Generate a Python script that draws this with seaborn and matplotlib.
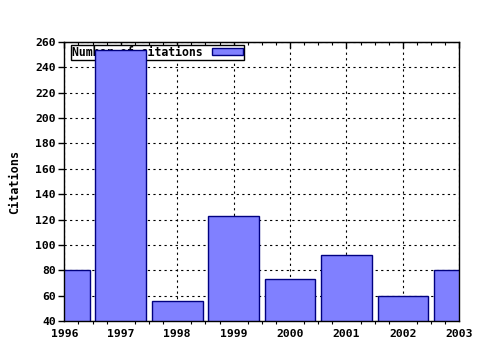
import matplotlib
matplotlib.use("Agg")
import matplotlib.pyplot as plt
import seaborn as sns
import pandas as pd
from matplotlib.ticker import MultipleLocator, NullFormatter

years = [1996, 1997, 1998, 1999, 2000, 2001, 2002, 2003]
citations = [80, 254, 56, 123, 73, 92, 60, 80]
series_label = "Number of citations"
y_label = "Citations"

sns.set_style("white")
plt.rcParams['font.family'] = ['DejaVu Sans Mono']
plt.rcParams['font.weight'] = 'bold'
plt.rcParams['text.color'] = 'black'
plt.rcParams['axes.labelcolor'] = 'black'

df = pd.DataFrame({"year": years, "citations": citations})

fig = plt.figure(figsize=(4.8, 3.5), dpi=100)
ax = fig.add_axes([0.134, 0.083, 0.823, 0.797])

sns.barplot(data=df, x="year", y="citations", native_scale=True, width=0.9,
            color="#8080ff", saturation=1, edgecolor="#000080", linewidth=1.0,
            label=series_label, ax=ax)

ax.set_xlim(1996, 2003)
ax.set_ylim(40, 260)
ax.set_yticks(range(40, 261, 20))
ax.set_xticks(years)
ax.set_xticklabels([str(y) for y in years])
ax.xaxis.set_minor_locator(MultipleLocator(0.25))
ax.set_xlabel("")
ax.set_ylabel(y_label, fontsize=8.5, fontweight='bold', labelpad=10, color='black')

ax.set_axisbelow(True)
ax.grid(True, which='major', color='black', linestyle=(0, (2, 3)), linewidth=0.8)

for s in ax.spines.values():
    s.set_visible(True)
    s.set_color('black')
    s.set_linewidth(1.0)
    s.set_zorder(20)

ax.tick_params(axis='both', which='major', labelsize=8.2, length=4, width=1,
               color='black', labelcolor='black')
ax.tick_params(axis='x', which='major', direction='out', top=False, pad=2, length=4)
ax.tick_params(axis='x', which='minor', bottom=True, top=False, direction='out',
               length=2, width=0.8, color='black')
ax.tick_params(axis='y', which='major', direction='out', left=True, pad=2)

top = ax.secondary_xaxis('top')
top.set_xticks(years)
top.xaxis.set_major_formatter(NullFormatter())
top.xaxis.set_minor_locator(MultipleLocator(0.25))
top.tick_params(which='major', direction='in', length=4, width=1, color='black')
top.tick_params(which='minor', direction='in', length=2, width=0.8, color='black')

leg = ax.legend(loc='upper left', bbox_to_anchor=(0.017, 0.99), markerfirst=False,
                fancybox=False, edgecolor='black', framealpha=1,
                handlelength=2.7, handleheight=0.55, borderpad=0.1,
                borderaxespad=0.0, handletextpad=0.8, labelcolor='black',
                prop={'weight': 'bold', 'size': 8.3})
leg.get_frame().set_linewidth(1.0)
leg.set_zorder(1)

for p in ax.patches:
    p.set_zorder(10)

fig.savefig("out.png", dpi=100)
